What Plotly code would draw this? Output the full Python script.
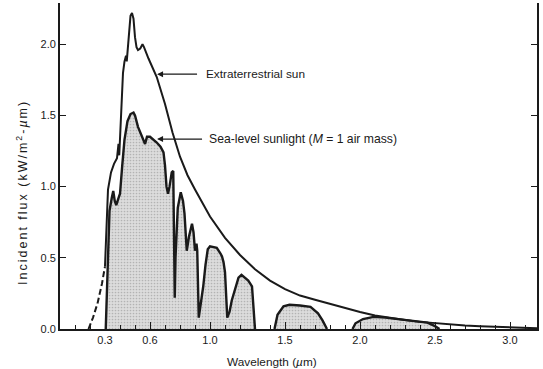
import plotly.graph_objects as go

# Extraterrestrial sun (dashed part below 0.3 um, solid above)
ext_dash_wl = [0.19, 0.22, 0.25, 0.28, 0.30]
ext_dash_flux = [0.0, 0.08, 0.18, 0.32, 0.44]

ext_wl = [0.30, 0.31, 0.32, 0.34, 0.36, 0.38, 0.39, 0.395, 0.40, 0.41, 0.42, 0.43, 0.44,
          0.445, 0.455, 0.47, 0.48, 0.49, 0.50, 0.51, 0.52, 0.535, 0.55, 0.56, 0.59,
          0.645, 0.70, 0.75, 0.80, 0.85, 0.90, 0.95, 1.0, 1.1, 1.2, 1.3, 1.4, 1.5, 1.6, 1.7, 1.8,
          1.9, 2.0, 2.1, 2.2, 2.3, 2.4, 2.5, 2.6, 2.7, 2.8, 2.9, 3.0, 3.1, 3.18]
ext_flux = [0.44, 0.75, 0.98, 1.10, 1.16, 1.20, 1.30, 1.22, 1.33, 1.60, 1.80, 1.88, 1.92,
            1.88, 2.00, 2.20, 2.22, 2.18, 2.05, 1.98, 1.96, 1.97, 2.00, 1.98, 1.90,
            1.77, 1.58, 1.38, 1.21, 1.08, 0.98, 0.88, 0.79, 0.64, 0.52, 0.42, 0.34, 0.28, 0.235, 0.205, 0.175,
            0.145, 0.12, 0.095, 0.078, 0.063, 0.05, 0.04, 0.03, 0.024, 0.019, 0.015, 0.012, 0.008, 0.005]

# Sea-level sunlight (M = 1), three separate bands
sea_wl = [0.305, 0.32, 0.33, 0.345, 0.355, 0.365, 0.375, 0.39, 0.40, 0.415, 0.43, 0.45,
          0.47, 0.49, 0.50, 0.52, 0.54, 0.555, 0.567, 0.58, 0.60, 0.645, 0.67, 0.69, 0.70,
          0.71, 0.72, 0.73, 0.745, 0.755, 0.760, 0.765, 0.770, 0.785, 0.805, 0.82, 0.83,
          0.845, 0.86, 0.88, 0.89, 0.90, 0.91, 0.915, 0.925, 0.935, 0.955, 0.97, 0.985,
          1.0, 1.045, 1.07, 1.08, 1.09, 1.10, 1.115, 1.13, 1.145, 1.17, 1.19, 1.21, 1.235,
          1.255, 1.28, 1.29, 1.30]
sea_flux = [0.0, 0.55, 0.83, 0.92, 0.97, 0.90, 0.87, 0.92, 0.95, 1.15, 1.33, 1.46,
            1.51, 1.52, 1.50, 1.42, 1.37, 1.33, 1.30, 1.35, 1.35, 1.31, 1.28, 1.24, 1.15,
            1.00, 0.95, 1.00, 1.10, 1.11, 0.70, 0.22, 0.50, 0.85, 0.96, 0.90, 0.81,
            0.55, 0.65, 0.74, 0.68, 0.55, 0.60, 0.55, 0.08, 0.15, 0.30, 0.45, 0.56,
            0.58, 0.57, 0.53, 0.51, 0.47, 0.40, 0.08, 0.12, 0.20, 0.30, 0.36, 0.38, 0.36,
            0.34, 0.30, 0.15, 0.0]
band2_wl = [1.43, 1.45, 1.49, 1.53, 1.60, 1.67, 1.72, 1.75, 1.78]
band2_flux = [0.0, 0.10, 0.16, 0.17, 0.165, 0.155, 0.11, 0.06, 0.0]
band3_wl = [1.95, 1.97, 2.02, 2.09, 2.17, 2.24, 2.36, 2.45, 2.50, 2.53]
band3_flux = [0.0, 0.04, 0.07, 0.085, 0.08, 0.07, 0.055, 0.045, 0.02, 0.0]

x_tickvals = [0.3, 0.6, 1.0, 1.5, 2.0, 2.5, 3.0]
x_ticktext = ["0.3", "0.6", "1.0", "1.5", "2.0", "2.5", "3.0"]
y_tickvals = [0.0, 0.5, 1.0, 1.5, 2.0]
y_ticktext = ["0.0", "0.5", "1.0", "1.5", "2.0"]

FONT = "Liberation Sans, Arial, sans-serif"
INK = "#1a1a1a"

fig = go.Figure()
fill_pattern = dict(shape=".", fgcolor="#8a8a8a", bgcolor="#dcdcdc", size=3, solidity=0.25)
for wl, fl in [(sea_wl, sea_flux), (band2_wl, band2_flux), (band3_wl, band3_flux)]:
    fig.add_trace(go.Scatter(x=wl, y=fl, mode="lines", fill="tozeroy",
                             fillpattern=fill_pattern, fillcolor="#d0d0d0",
                             line=dict(color=INK, width=2.4), showlegend=False,
                             hoverinfo="skip"))
fig.add_trace(go.Scatter(x=ext_wl, y=ext_flux, mode="lines",
                         line=dict(color=INK, width=2), showlegend=False))
fig.add_trace(go.Scatter(x=ext_dash_wl, y=ext_dash_flux, mode="lines",
                         line=dict(color=INK, width=2, dash="6px,3px"), showlegend=False))

# labels with leader arrows
fig.add_annotation(x=0.647, y=1.79, ax=47, ay=0, showarrow=True, arrowhead=2,
                   arrowsize=1, arrowwidth=1.2, arrowcolor=INK, startstandoff=7,
                   text="Extraterrestrial sun", xanchor="left", yanchor="middle",
                   font=dict(size=11.8, color=INK, family=FONT))
fig.add_annotation(x=0.647, y=1.334, ax=50, ay=0, showarrow=True, arrowhead=2,
                   arrowsize=1, arrowwidth=1.2, arrowcolor=INK, startstandoff=5,
                   text="Sea-level sunlight (<i>M</i> = 1 air mass)", xanchor="left",
                   yanchor="middle", font=dict(size=12.2, color=INK, family=FONT))
# axis titles
fig.add_annotation(x=1.41, y=-0.1, yref="paper", text="Wavelength (<i>µ</i>m)",
                   showarrow=False, xanchor="center", yanchor="middle",
                   font=dict(size=11.8, color=INK, family=FONT))
fig.add_annotation(x=-0.08, xref="paper", y=0.42, yref="paper",
                   text='<span style="letter-spacing:2px">Incident flux (kW/m<sup>2</sup>-<i>µ</i>m)</span>',
                   textangle=-90,
                   showarrow=False, xanchor="center", yanchor="middle",
                   font=dict(size=12.5, color=INK, family=FONT))

fig.update_layout(
    width=543, height=369,
    margin=dict(l=60, r=6, t=3, b=40),
    paper_bgcolor="white", plot_bgcolor="white",
    font=dict(family=FONT, size=11, color=INK),
    showlegend=False,
    xaxis=dict(range=[0, 3.18], tickmode="array", tickvals=x_tickvals, ticktext=x_ticktext,
               ticks="inside", ticklen=7, tickwidth=1.2, tickcolor=INK,
               minor=dict(tickmode="linear", tick0=0, dtick=0.1, ticks="inside", ticklen=4,
                          tickwidth=1, tickcolor=INK, showgrid=False),
               showline=True, linecolor=INK, linewidth=1.8, showgrid=False, zeroline=False,
               mirror=False, layer="above traces", tickfont=dict(size=11, color=INK, family=FONT)),
    yaxis=dict(range=[0, 2.29], tickmode="array", tickvals=y_tickvals, ticktext=y_ticktext,
               ticks="inside", ticklen=6, tickwidth=1.2, tickcolor=INK,
               showline=True, linecolor=INK, linewidth=1.8, showgrid=False, zeroline=False,
               mirror="ticks", layer="above traces", tickfont=dict(size=11, color=INK, family=FONT)),
)

fig.write_html("out.html", config={"displayModeBar": False},
               post_script="document.body.style.margin='0';document.body.style.overflow='hidden';")
